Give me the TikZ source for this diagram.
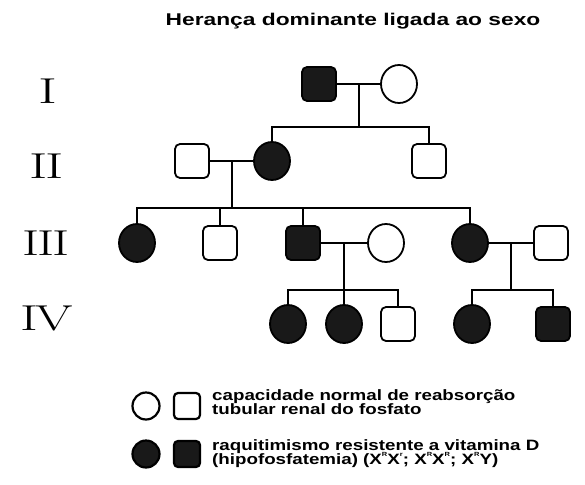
\documentclass[tikz,border=0pt]{standalone}
\usepackage{fontspec}
\usepackage{graphicx}
\usetikzlibrary{shapes.geometric}
\newfontfamily\lsans{Liberation Sans}
\newcommand\supr[1]{\raisebox{0.5em}{\fontsize{6}{6}\selectfont #1}}
\begin{document}
\begin{tikzpicture}[x=1pt,y=-1pt]
\tikzset{
 ln/.style={line width=1.8pt},
 male/.style={draw, line width=1.8pt, rectangle, rounded corners=5pt, minimum width=34pt, minimum height=34pt, inner sep=0},
 female/.style={draw, line width=1.8pt, ellipse, minimum width=36pt, minimum height=38pt, inner sep=0},
 aff/.style={fill=black!90},
 lmale/.style={male, line width=2.2pt, minimum width=26pt, minimum height=26pt, rounded corners=4pt},
 lfemale/.style={female, line width=2.2pt, minimum width=27pt, minimum height=27pt},
 gen/.style={font=\fontsize{36}{36}\selectfont, inner sep=0},
 legtext/.style={anchor=base west, inner sep=0, font=\lsans\bfseries\fontsize{15}{15}\selectfont},
 titletext/.style={anchor=base, inner sep=0, font=\lsans\bfseries\fontsize{17}{17}\selectfont},
}
\useasboundingbox[fill=white] (0,0) rectangle (585,484);

% title
\node[titletext] (title) at (353,26) {\scalebox{1.34}[1]{Herança dominante ligada ao sexo}};

% generation labels
\node[gen] (gI) at (48,91) {\scalebox{1.6}[1]{I}};
\node[gen] (gII) at (47,166) {\scalebox{1.55}[1]{I\kern-1.4pt I}};
\node[gen] (gIII) at (46,243) {\scalebox{1.45}[1]{I\kern-1.4pt I\kern-1.4pt I}};
\node[gen] (gIV) at (47,318) {\scalebox{1.5}[1]{I\kern-1.8pt V}};

% generation I
\node[male,aff] (m1) at (319,84) {};
\node[female] (f1) at (399,84) {};
% generation II
\node[male] (m2) at (192,161) {};
\node[female,aff] (f2) at (272,161) {};
\node[male] (m3) at (429,161) {};
% generation III
\node[female,aff] (f3) at (137,243) {};
\node[male] (m4) at (220,243) {};
\node[male,aff] (m5) at (303,243) {};
\node[female] (f4) at (386,243) {};
\node[female,aff] (f5) at (470,243) {};
\node[male] (m6) at (551,243) {};
% generation IV
\node[female,aff] (f6) at (288,324) {};
\node[female,aff] (f7) at (344,324) {};
\node[male] (m7) at (398,324) {};
\node[female,aff] (f8) at (472,324) {};
\node[male,aff] (m8) at (553,324) {};

% connectors
\coordinate (c1) at (359,84); \coordinate (s1) at (359,127);
\draw[ln] (m1) -- (f1);
\draw[ln] (c1) -- (s1);
\draw[ln] (f2.north) |- (s1) -| (m3.north);

\coordinate (c2) at (232,161); \coordinate (s2) at (232,208);
\draw[ln] (m2) -- (f2);
\draw[ln] (c2) -- (s2);
\draw[ln] (f3.north) |- (s2) -| (f5.north);
\draw[ln] (m4.north) -- (m4.north |- s2);
\draw[ln] (m5.north) -- (m5.north |- s2);

\coordinate (c3) at (344,243); \coordinate (s3) at (344,290);
\draw[ln] (m5) -- (f4);
\draw[ln] (c3) -- (s3);
\draw[ln] (f6.north) |- (s3) -| (m7.north);
\draw[ln] (s3) -- (f7.north);

\coordinate (c4) at (511,243); \coordinate (s4) at (511,290);
\draw[ln] (f5) -- (m6);
\draw[ln] (c4) -- (s4);
\draw[ln] (f8.north) |- (s4) -| (m8.north);

% legend
\node[lfemale] (lc1) at (146,406) {};
\node[lmale] (ls1) at (187,406) {};
\node[lfemale,aff] (lc2) at (146,454) {};
\node[lmale,aff] (ls2) at (187,454) {};
\node[legtext] (lt1a) at (212,400) {\scalebox{1.25}[1]{capacidade normal de reabsorção}};
\node[legtext] (lt1b) at (212,414) {\scalebox{1.25}[1]{tubular renal do fosfato}};
\node[legtext] (lt2a) at (212,450) {\scalebox{1.25}[1]{raquitimismo resistente a vitamina D}};
\node[legtext] (lt2b) at (212,464) {\scalebox{1.25}[1]{(hipofosfatemia) (X\supr{R}X\supr{r}; X\supr{R}X\supr{R}; X\supr{R}Y)}};
\end{tikzpicture}
\end{document}
